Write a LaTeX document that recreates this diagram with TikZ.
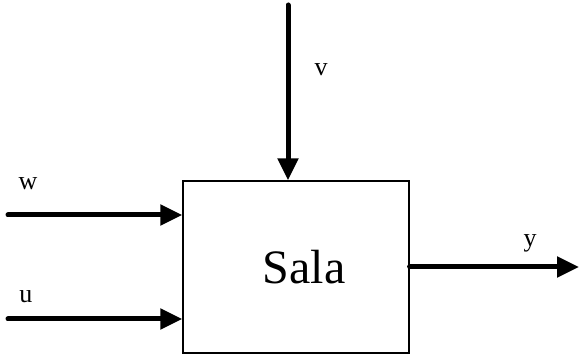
\documentclass[tikz,border=0pt]{standalone}
\usepackage{fontspec}
\setmainfont{Liberation Serif}
\usetikzlibrary{arrows.meta}
\begin{document}
\begin{tikzpicture}[x=1pt,y=-1pt,
  flow/.style={line width=5pt,line cap=round,-{Triangle[length=22pt,width=20pt]}},
  block/.style={draw,line width=1.2pt,minimum width=226pt,minimum height=172pt,inner sep=0pt},
  sig/.style={font=\fontsize{26}{30}\selectfont,anchor=base,inner sep=0pt}]
  \useasboundingbox (0,0) rectangle (581,355);
  % the room block
  \node[block,label={[xshift=8pt,font=\fontsize{48}{56}\selectfont]center:Sala}] (sala) at (296,267) {};
  % free ends of the signals
  \coordinate (vtop) at (288,5);
  \coordinate (win) at (8,215);
  \coordinate (uin) at (8,319);
  \coordinate (yout) at (579,267);
  % signals
  \draw[flow] (vtop) -- (vtop |- sala.north);
  \draw[flow] (win) -- (win -| sala.west);
  \draw[flow] (uin) -- (uin -| sala.west);
  \draw[flow] (sala.east |- yout) -- (yout);
  % signal names
  \node[sig] (lv) at (321,76) {v};
  \node[sig] (lw) at (28,190) {w};
  \node[sig] (lu) at (26,303) {u};
  \node[sig] (ly) at (530,247) {y};
\end{tikzpicture}
\end{document}
